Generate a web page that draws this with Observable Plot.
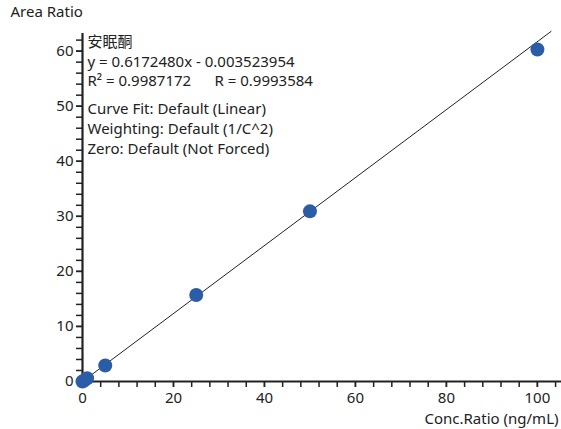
<!DOCTYPE html>
<html><head><meta charset="utf-8">
<script src="https://cdn.jsdelivr.net/npm/d3@7"></script>
<script src="https://cdn.jsdelivr.net/npm/@observablehq/plot@0.6"></script>
<style>body{margin:0;background:#fff}</style>
</head><body><div id="chart"></div>
<script>
const conc = [0, 0.5, 1, 5, 25, 50, 100];
const area = [0.0, 0.25, 0.6, 2.9, 15.7, 30.9, 60.3];
const slope = 0.6172480, intercept = -0.003523954;
const fitX = [0, 103];
const xMajor = [0, 20, 40, 60, 80, 100];
const yMajor = [0, 10, 20, 30, 40, 50, 60];
const infoTop = ["安眠酮", "y = 0.6172480x - 0.003523954", "R² = 0.9987172      R = 0.9993584"];
const infoBottom = ["Curve Fit: Default (Linear)", "Weighting: Default (1/C^2)", "Zero: Default (Not Forced)"];

const pts = conc.map((c, i) => ({c, a: area[i]}));
const fit = fitX.map(x => ({x, y: slope * x + intercept}));
const font = "'Segoe UI', 'Noto Sans', 'Noto Sans CJK SC', sans-serif";

const chart = Plot.plot({
  width: 561, height: 429,
  marginLeft: 82, marginRight: 0, marginTop: 33, marginBottom: 48,
  style: {fontFamily: font, fontSize: "15px", color: "#222", background: "#fff"},
  x: {domain: [0, 105.3]},
  y: {domain: [0, 63.2]},
  marks: [
    Plot.axisX({ticks: d3.range(0, 105, 4), tickSize: 6, tickFormat: () => "", strokeWidth: 1.5, label: null}),
    Plot.axisX({ticks: xMajor, tickSize: 6, tickPadding: 5, fontSize: 15, strokeWidth: 1.5, label: null}),
    Plot.axisY({ticks: d3.range(0, 63, 2), tickSize: 6, tickFormat: () => "", strokeWidth: 1.5, label: null}),
    Plot.axisY({ticks: yMajor, tickSize: 6, tickPadding: 3, fontSize: 15, strokeWidth: 1.5, label: null}),
    Plot.ruleY([0], {stroke: "#222", strokeWidth: 2.2}),
    Plot.ruleX([0], {stroke: "#222", strokeWidth: 2.2}),
    Plot.line(fit, {x: "x", y: "y", stroke: "#222", strokeWidth: 1}),
    Plot.dot(pts, {x: "c", y: "a", r: 7, fill: "#2b5ca8", stroke: "none"}),
    Plot.text([infoTop.join("\n")], {frameAnchor: "top-left", dx: 5, dy: 0, lineHeight: 1.3, textAnchor: "start", lineAnchor: "top", fontSize: 15, fill: "#222"}),
    Plot.text([infoBottom.join("\n")], {frameAnchor: "top-left", dx: 5, dy: 66, lineHeight: 1.33, textAnchor: "start", lineAnchor: "top", fontSize: 15, fill: "#222"}),
    Plot.text(["Area Ratio"], {frameAnchor: "top-left", dx: -72, dy: -27, textAnchor: "start", lineAnchor: "top", fontSize: 15, fill: "#222"}),
    Plot.text(["Conc.Ratio (ng/mL)"], {frameAnchor: "bottom-right", dx: -3, dy: 42, textAnchor: "end", lineAnchor: "bottom", fontSize: 15, fill: "#222"})
  ]
});
document.getElementById("chart").appendChild(chart);
</script>
</body></html>
